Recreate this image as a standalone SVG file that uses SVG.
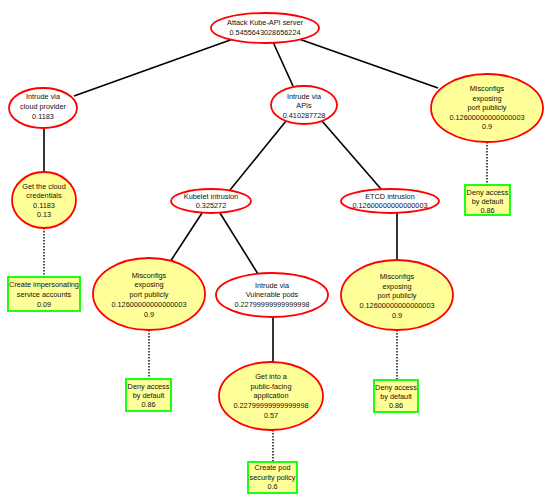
<svg xmlns="http://www.w3.org/2000/svg" width="550" height="499" viewBox="0 0 550 499">
<style>
.bg{fill:#ffffff}
.or{fill:#ffffff;stroke:#ff0000;stroke-width:1.8}
.leaf{fill:#ffff99;stroke:#ff0000;stroke-width:1.8}
.ctl{fill:#ffff99;stroke:#00ff00;stroke-width:1.8}
.e{stroke:#000;stroke-width:1.6;fill:none}
.d{stroke:#000;stroke-width:1.4;fill:none;stroke-dasharray:1.5,1.5}
text{font-family:"Liberation Sans",Arial,sans-serif;font-size:7.3px;fill:#111;text-anchor:middle}
</style>
<rect class="bg" x="0" y="0" width="550" height="499"/>
<g id="connectors">
<line class="e" x1="233" y1="39" x2="74" y2="96"/>
<line class="e" x1="273" y1="42" x2="293" y2="86"/>
<line class="e" x1="299" y1="39" x2="438" y2="88"/>
<line class="e" x1="44" y1="128" x2="44" y2="172"/>
<line class="e" x1="286" y1="121" x2="230" y2="190"/>
<line class="e" x1="322" y1="121" x2="381" y2="189"/>
<line class="e" x1="202" y1="213" x2="170" y2="262"/>
<line class="e" x1="220" y1="213" x2="258" y2="274"/>
<line class="e" x1="397" y1="213" x2="397" y2="260"/>
<line class="e" x1="273" y1="317" x2="273" y2="362"/>
<line class="d" x1="44" y1="228" x2="44" y2="277"/>
<line class="d" x1="149" y1="330" x2="149" y2="379"/>
<line class="d" x1="397" y1="330" x2="397" y2="380"/>
<line class="d" x1="273" y1="430" x2="273" y2="462"/>
<line class="d" x1="487" y1="142" x2="487" y2="185"/>
</g>
<g id="root">
<ellipse class="or" cx="265" cy="28" rx="54" ry="15"/>
<text x="265" y="25">Attack Kube-API server</text>
<text x="265" y="35">0.5455643028656224</text>
</g>
<g id="cloud-provider">
<ellipse class="or" cx="43" cy="108" rx="34" ry="20"/>
<text x="43" y="99">Intrude via</text>
<text x="43" y="109">cloud provider</text>
<text x="43" y="119">0.1183</text>
</g>
<g id="apis">
<ellipse class="or" cx="304" cy="105" rx="33" ry="19"/>
<text x="304" y="99">Intrude via</text>
<text x="304" y="108">APIs</text>
<text x="304" y="118">0.410287728</text>
</g>
<g id="misconfig-right">
<ellipse class="leaf" cx="487" cy="108" rx="56" ry="34"/>
<text x="487" y="91">Misconfigs</text>
<text x="487" y="101">exposing</text>
<text x="487" y="110">port publicly</text>
<text x="487" y="120">0.12600000000000003</text>
<text x="487" y="129">0.9</text>
</g>
<g id="deny-right">
<rect class="ctl" x="465" y="185" width="45" height="30"/>
<text x="487.5" y="195">Deny access</text>
<text x="487.5" y="204">by default</text>
<text x="487.5" y="213">0.86</text>
</g>
<g id="cloud-credentials">
<ellipse class="leaf" cx="44" cy="200" rx="32" ry="28"/>
<text x="44" y="189">Get the cloud</text>
<text x="44" y="198">credentials</text>
<text x="44" y="208">0.1183</text>
<text x="44" y="217">0.13</text>
</g>
<g id="impersonating">
<rect class="ctl" x="8" y="277" width="72" height="34"/>
<text x="44" y="287">Create impersonating</text>
<text x="44" y="297">service accounts</text>
<text x="44" y="307">0.09</text>
</g>
<g id="kubelet">
<ellipse class="or" cx="211" cy="201" rx="40" ry="12"/>
<text x="211" y="199">Kubelet intrusion</text>
<text x="211" y="208">0.325272</text>
</g>
<g id="etcd">
<ellipse class="or" cx="390" cy="201" rx="49" ry="12"/>
<text x="390" y="199">ETCD intrusion</text>
<text x="390" y="208">0.12600000000000003</text>
</g>
<g id="misconfig-left">
<ellipse class="leaf" cx="149" cy="294" rx="56" ry="36"/>
<text x="149" y="278">Misconfigs</text>
<text x="149" y="287">exposing</text>
<text x="149" y="297">port publicly</text>
<text x="149" y="307">0.12600000000000003</text>
<text x="149" y="317">0.9</text>
</g>
<g id="vulnerable-pods">
<ellipse class="or" cx="272" cy="295" rx="56" ry="22"/>
<text x="272" y="288">Intrude via</text>
<text x="272" y="297">Vulnerable pods</text>
<text x="272" y="307">0.22799999999999998</text>
</g>
<g id="misconfig-mid">
<ellipse class="leaf" cx="397" cy="295" rx="56" ry="35"/>
<text x="397" y="279">Misconfigs</text>
<text x="397" y="289">exposing</text>
<text x="397" y="298">port publicly</text>
<text x="397" y="308">0.12600000000000003</text>
<text x="397" y="318">0.9</text>
</g>
<g id="deny-left">
<rect class="ctl" x="126" y="379" width="45" height="32"/>
<text x="148.5" y="389">Deny access</text>
<text x="148.5" y="398">by default</text>
<text x="148.5" y="407">0.86</text>
</g>
<g id="deny-mid">
<rect class="ctl" x="374" y="380" width="44" height="32"/>
<text x="396" y="390">Deny access</text>
<text x="396" y="399">by default</text>
<text x="396" y="408">0.86</text>
</g>
<g id="public-facing">
<ellipse class="leaf" cx="271" cy="396" rx="52" ry="34"/>
<text x="271" y="379">Get into a</text>
<text x="271" y="389">public-facing</text>
<text x="271" y="398">application</text>
<text x="271" y="408">0.22799999999999998</text>
<text x="271" y="418">0.57</text>
</g>
<g id="pod-security">
<rect class="ctl" x="248" y="462" width="49" height="31"/>
<text x="272.5" y="470">Create pod</text>
<text x="272.5" y="480">security policy</text>
<text x="272.5" y="489">0.6</text>
</g>
</svg>
